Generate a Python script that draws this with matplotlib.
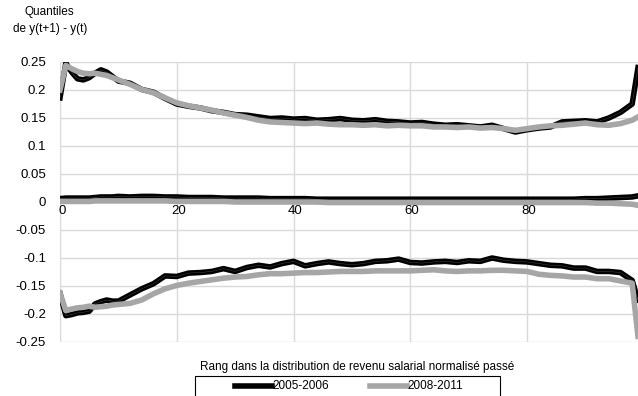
import matplotlib.pyplot as plt
from matplotlib.lines import Line2D
from matplotlib.patches import Rectangle

plt.rcParams['font.family'] = ['Liberation Sans', 'DejaVu Sans']

# rang (percentile) dans la distribution passée
rang = [0, 1, 2, 3, 4, 5, 6, 7, 8, 9, 10, 12, 14, 16, 18, 20, 22, 24, 26, 28,
        30, 32, 34, 36, 38, 40, 42, 44, 46, 48, 50, 52, 54, 56, 58, 60, 62, 64,
        66, 68, 70, 72, 74, 76, 78, 80, 82, 84, 86, 88, 90, 92, 94, 96, 98, 99]

# quantile haut
haut_0506 = [0.186, 0.248, 0.232, 0.220, 0.218, 0.222, 0.230, 0.236, 0.232, 0.224,
             0.216, 0.212, 0.201, 0.196, 0.185, 0.175, 0.171, 0.168, 0.163, 0.160,
             0.156, 0.155, 0.152, 0.149, 0.150, 0.148, 0.149, 0.146, 0.147, 0.149,
             0.146, 0.145, 0.147, 0.144, 0.143, 0.141, 0.142, 0.139, 0.137, 0.138,
             0.136, 0.134, 0.137, 0.131, 0.125, 0.129, 0.132, 0.134, 0.143, 0.144,
             0.145, 0.143, 0.150, 0.160, 0.175, 0.240]
haut_0811 = [0.200, 0.244, 0.238, 0.233, 0.230, 0.229, 0.230, 0.228, 0.226, 0.222,
             0.218, 0.210, 0.201, 0.195, 0.186, 0.177, 0.172, 0.168, 0.164, 0.159,
             0.155, 0.151, 0.146, 0.143, 0.142, 0.141, 0.140, 0.141, 0.139, 0.138,
             0.138, 0.137, 0.138, 0.136, 0.137, 0.136, 0.136, 0.134, 0.134, 0.133,
             0.134, 0.132, 0.133, 0.131, 0.128, 0.131, 0.134, 0.136, 0.137, 0.139,
             0.141, 0.138, 0.137, 0.140, 0.146, 0.152]

# médiane
med_0506 = [0.006, 0.007, 0.007, 0.007, 0.007, 0.007, 0.008, 0.009, 0.009, 0.009,
            0.010, 0.009, 0.010, 0.010, 0.009, 0.009, 0.008, 0.008, 0.008, 0.007,
            0.007, 0.007, 0.007, 0.006, 0.006, 0.006, 0.006, 0.005, 0.005, 0.005,
            0.005, 0.005, 0.005, 0.005, 0.005, 0.005, 0.005, 0.005, 0.005, 0.005,
            0.005, 0.005, 0.005, 0.005, 0.005, 0.005, 0.005, 0.005, 0.005, 0.005,
            0.006, 0.006, 0.007, 0.008, 0.009, 0.011]
med_0811 = [0.001, 0.001, 0.001, 0.001, 0.001, 0.001, 0.002, 0.002, 0.002, 0.002,
            0.002, 0.002, 0.002, 0.002, 0.002, 0.001, 0.001, 0.001, 0.001, 0.001,
            0.000, 0.000, 0.000, 0.000, 0.000, 0.000, 0.000, 0.000, -0.001, -0.001,
            -0.001, -0.001, -0.001, -0.001, -0.001, -0.001, -0.001, -0.001, -0.001, -0.001,
            -0.001, -0.001, -0.001, -0.001, -0.001, -0.001, -0.001, -0.001, -0.001, -0.001,
            -0.001, -0.002, -0.002, -0.003, -0.004, -0.006]

# quantile bas
bas_0506 = [-0.163, -0.203, -0.201, -0.198, -0.197, -0.195, -0.182, -0.178, -0.175, -0.177,
            -0.177, -0.166, -0.155, -0.146, -0.132, -0.133, -0.127, -0.126, -0.124, -0.119,
            -0.124, -0.117, -0.113, -0.116, -0.110, -0.106, -0.114, -0.110, -0.107, -0.110,
            -0.112, -0.110, -0.106, -0.105, -0.102, -0.108, -0.109, -0.107, -0.106, -0.108,
            -0.105, -0.106, -0.100, -0.104, -0.106, -0.107, -0.110, -0.113, -0.114, -0.118,
            -0.118, -0.124, -0.124, -0.126, -0.140, -0.175]
bas_0811 = [-0.163, -0.194, -0.191, -0.189, -0.188, -0.186, -0.188, -0.187, -0.186, -0.184,
            -0.183, -0.181, -0.175, -0.164, -0.155, -0.149, -0.145, -0.142, -0.139, -0.136,
            -0.134, -0.133, -0.130, -0.128, -0.128, -0.127, -0.126, -0.126, -0.125, -0.124,
            -0.124, -0.124, -0.123, -0.123, -0.123, -0.123, -0.122, -0.121, -0.123, -0.124,
            -0.123, -0.123, -0.122, -0.122, -0.123, -0.124, -0.129, -0.131, -0.132, -0.134,
            -0.134, -0.137, -0.137, -0.141, -0.145, -0.240]

xticks = [0, 20, 40, 60, 80]
yticks = [-0.25, -0.2, -0.15, -0.1, -0.05, 0, 0.05, 0.1, 0.15, 0.2, 0.25]
ylabels = ['-0.25', '-0.2', '-0.15', '-0.1', '-0.05', '0', '0.05', '0.1', '0.15', '0.2', '0.25']
periodes = ['2005-2006', '2008-2011']

W, H = 638, 396
fig = plt.figure(figsize=(W / 100, H / 100), dpi=100)
ax = fig.add_axes([60 / W, 1 - 342 / H, 578 / W, 280 / H])

grid = '#d9d9d9'
for y in yticks:
    ax.axhline(y, color=grid, lw=1, zorder=0)
for x in xticks:
    ax.axvline(x, color=grid, lw=1, zorder=0)

black, gray = '#000000', '#a6a6a6'
for s in (haut_0506, med_0506, bas_0506):
    ax.plot(rang, s, color=black, lw=4, zorder=2, solid_joinstyle='round')
    ax.plot(rang, s, color='white', lw=0.3, alpha=0.3, zorder=2)
for s in (haut_0811, med_0811, bas_0811):
    ax.plot(rang, s, color=gray, lw=4, zorder=3, solid_joinstyle='round')

ax.set_xlim(0, 99)
ax.set_ylim(-0.25, 0.25)
for sp in ax.spines.values():
    sp.set_visible(False)
ax.set_xticks([])
ax.set_yticks(yticks)
ax.set_yticklabels(ylabels, fontsize=9.5)
ax.tick_params(axis='y', length=0, pad=10)

# labels de l'axe x posés sur la ligne zéro
for x in xticks:
    ax.text(x + 0.3, -0.006, str(x), ha='center', va='top', fontsize=9.5)

fig.text(0.078, 0.985, 'Quantiles\nde y(t+1) - y(t)', ha='center', va='top',
         fontsize=8.5, linespacing=1.6)
fig.text(0.56, 1 - 367 / H, 'Rang dans la distribution de revenu salarial normalisé passé',
         ha='center', va='center', fontsize=8.5)

# légende dessinée à la main, cadre coupé en bas
fig.patches.append(Rectangle((195 / W, 1 - 400 / H), 305 / W, 24 / H,
                             transform=fig.transFigure, fill=False,
                             edgecolor='black', lw=0.8))
ly = 1 - 386 / H
for (x0, x1), c, lab in zip([(235, 272), (370, 407)], [black, gray], periodes):
    fig.lines.append(Line2D([x0 / W, x1 / W], [ly, ly], transform=fig.transFigure,
                            color=c, lw=4))
    fig.text(x1 / W, ly, lab, ha='left', va='center', fontsize=8.5)

fig.savefig('out.png', dpi=100)
